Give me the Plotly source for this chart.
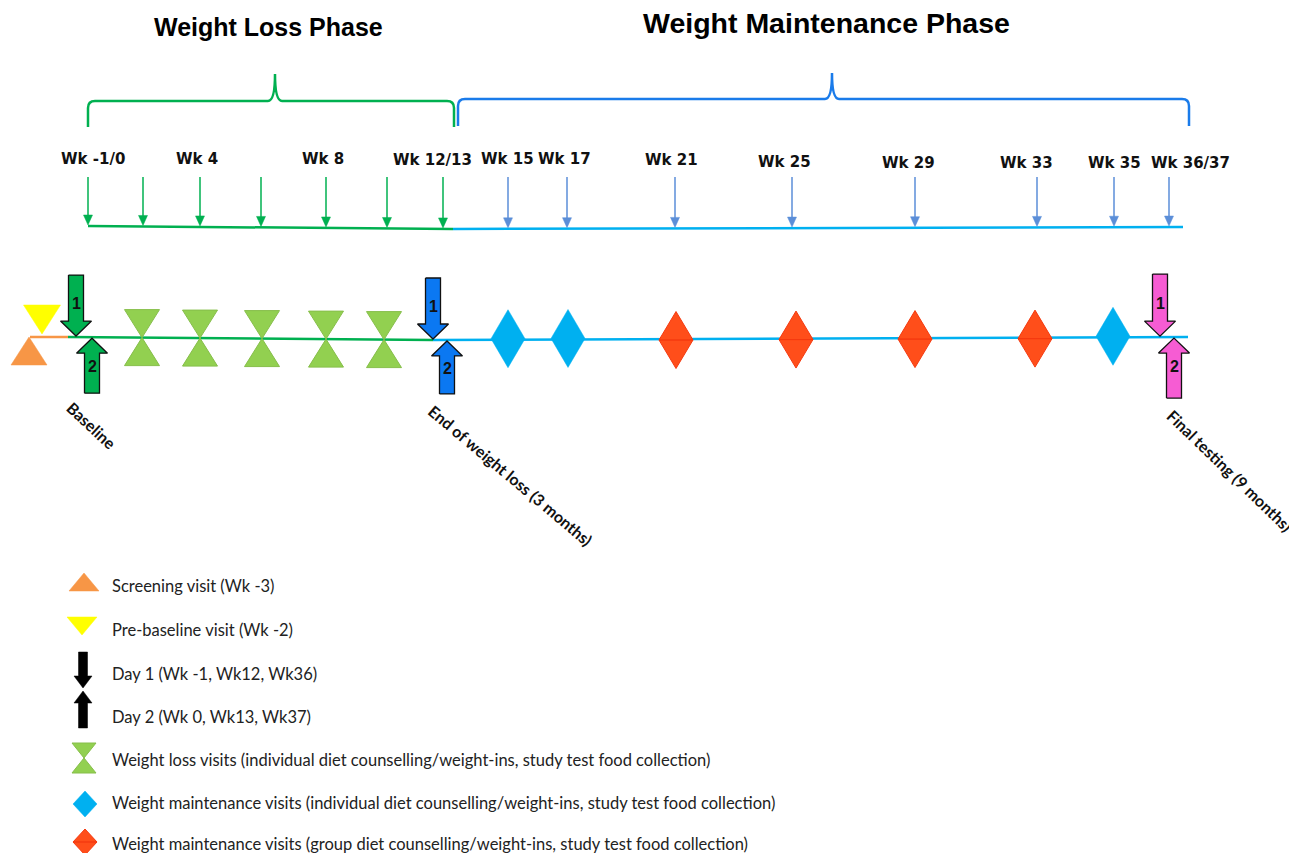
import numpy as np
import plotly.graph_objects as go

W, H = 1297, 853
PAGE_OFF = 8  # default body margin of the html page

# ---------------- data ----------------
phase_titles = ["Weight Loss Phase", "Weight Maintenance Phase"]
phase_title_x = [268, 826]
phase_title_y = [27, 23]
phase_start = [88, 458]
phase_end = [454, 1189]
phase_mid = [275, 832]

week_labels = ["Wk -1/0", "Wk 4", "Wk 8", "Wk 12/13", "Wk 15", "Wk 17",
               "Wk 21", "Wk 25", "Wk 29", "Wk 33", "Wk 35", "Wk 36/37"]
week_label_x = [93, 197, 323, 432, 507, 564, 671, 784, 908, 1026, 1114, 1190]
week_label_y = [159, 159, 159, 160, 159, 159, 160, 162, 163, 163, 163, 163]

loss_tick_x = [88, 143, 200, 261, 326, 387, 443]
maint_tick_x = [508, 567, 675, 792, 915, 1037, 1114, 1169]

screening_x = [29]
prebaseline_x = [42]
loss_visit_x = [142, 200, 262, 326, 384]
maint_indiv_x = [508, 568, 1113]
maint_group_x = [676, 796, 915, 1035]

day1_x = [76, 433, 1160]
day2_x = [92, 447, 1174]
day1_len = [61, 61, 62]
day2_len = [55, 53, 60]
day_colors = ["#00B050", "#0B78F2", "#F65CD3"]

milestone_labels = ["Baseline", "End of weight loss (3 months)", "Final testing (9 months)"]
milestone_x = [92, 511, 1230]
milestone_y = [425, 475, 470]
milestone_angle = [43, 40, 44]

legend_labels = [
    "Screening visit (Wk -3)",
    "Pre-baseline visit (Wk -2)",
    "Day 1 (Wk -1, Wk12, Wk36)",
    "Day 2 (Wk 0, Wk13, Wk37)",
    "Weight loss visits (individual diet counselling/weight-ins, study test food collection)",
    "Weight maintenance visits (individual diet counselling/weight-ins, study test food collection)",
    "Weight maintenance visits (group diet counselling/weight-ins, study test food collection)",
]
legend_y = [586, 630, 674, 717, 760, 803, 844]

# timeline geometry
main_seg_x = [[30, 68], [68, 433], [433, 1188]]
main_seg_y = [[337, 337], [337, 340], [340, 337]]
main_seg_col = ["#F79646", "#00B050", "#00B0F0"]
top_seg_x = [[88, 453], [453, 1183]]
top_seg_y = [[226, 229], [229, 227]]
top_seg_col = ["#00B050", "#00B0F0"]

GREEN = "#00B050"
LGREEN = "#92D050"
CYAN = "#00B0F0"
ORANGE = "#F79646"
RED = "#FF4E1A"
TICKBLUE = "#5B8ED8"
BRACEBLUE = "#1A7BEA"


def main_y(x):
    return float(np.interp(x, [30, 68, 433, 1188], [337, 337, 340, 337]))


def top_y(x):
    return float(np.interp(x, [88, 453, 1183], [226, 229, 227]))


def poly_trace(polys, fill, line_color, line_width=1.0):
    xs, ys = [], []
    for p in polys:
        for (x, y) in p:
            xs.append(x)
            ys.append(y)
        xs.append(p[0][0])
        ys.append(p[0][1])
        xs.append(None)
        ys.append(None)
    return go.Scatter(x=xs, y=ys, mode="lines", fill="toself", fillcolor=fill,
                      line=dict(color=line_color, width=line_width),
                      hoverinfo="skip", showlegend=False)


def block_arrow(xt, yt, down, length, sw=15, hw=31, hl=15):
    s = -1 if down else 1
    yb = yt + s * length
    yh = yt + s * hl
    return [(xt - sw / 2, yb), (xt + sw / 2, yb), (xt + sw / 2, yh), (xt + hw / 2, yh),
            (xt, yt), (xt - hw / 2, yh), (xt - sw / 2, yh)]


def hourglass(xc, yc, hw, hh):
    return [[(xc - hw, yc - hh), (xc + hw, yc - hh), (xc, yc)],
            [(xc - hw, yc + hh), (xc + hw, yc + hh), (xc, yc)]]


def diamond(xc, yc, hw, hh):
    return [(xc, yc - hh), (xc + hw, yc), (xc, yc + hh), (xc - hw, yc)]


fig = go.Figure()

# ---- upper timeline with small arrows ----
for sx, sy, c in zip(top_seg_x, top_seg_y, top_seg_col):
    fig.add_trace(go.Scatter(x=sx, y=sy, mode="lines", line=dict(color=c, width=2.5),
                             hoverinfo="skip", showlegend=False))


def tick_arrows(xs_, color):
    lx, ly, heads = [], [], []
    for x in xs_:
        tip = top_y(x) - 1
        lx += [x, x, None]
        ly += [177, tip - 8, None]
        heads.append([(x - 4.5, tip - 10), (x + 4.5, tip - 10), (x, tip)])
    fig.add_trace(go.Scatter(x=lx, y=ly, mode="lines", line=dict(color=color, width=1.5),
                             hoverinfo="skip", showlegend=False))
    fig.add_trace(poly_trace(heads, color, color, 0.5))


tick_arrows(loss_tick_x, GREEN)
tick_arrows(maint_tick_x, TICKBLUE)

# ---- main timeline ----
for sx, sy, c in zip(main_seg_x, main_seg_y, main_seg_col):
    fig.add_trace(go.Scatter(x=sx, y=sy, mode="lines", line=dict(color=c, width=2.5),
                             hoverinfo="skip", showlegend=False))

# screening & pre-baseline
fig.add_trace(poly_trace([[(x - 18, 365), (x + 18, 365), (x, 337)] for x in screening_x],
                         ORANGE, ORANGE, 0.5))
fig.add_trace(poly_trace([[(x - 18.5, 305), (x + 18.5, 305), (x, 334)] for x in prebaseline_x],
                         "#FFFF00", "#FFFF00", 0.5))

# weight loss visits (hourglass)
hg = []
for x in loss_visit_x:
    hg += hourglass(x, main_y(x), 17.5, 28)
fig.add_trace(poly_trace(hg, LGREEN, "#86BE4A", 1.0))

# maintenance individual (cyan diamonds)
fig.add_trace(poly_trace([diamond(x, main_y(x) - 1, 17, 29) for x in maint_indiv_x],
                         CYAN, CYAN, 0.5))

# maintenance group (red diamonds drawn as two triangles)
rd = []
for x in maint_group_x:
    yc = main_y(x) + 1
    rd.append([(x - 17, yc), (x + 17, yc), (x, yc - 28.5)])
    rd.append([(x - 17, yc), (x + 17, yc), (x, yc + 28.5)])
fig.add_trace(poly_trace(rd, RED, "#F53A10", 1.0))

# day 1 / day 2 block arrows
for x1, x2, l1, l2, c in zip(day1_x, day2_x, day1_len, day2_len, day_colors):
    t1 = main_y(x1) - 1
    t2 = main_y(x2) + 1
    fig.add_trace(poly_trace([block_arrow(x1, t1, True, l1)], c, "#111111", 1.3))
    fig.add_trace(poly_trace([block_arrow(x2, t2, False, l2)], c, "#111111", 1.3))
    fig.add_annotation(x=x1, y=t1 - 33, text="<b>1</b>", showarrow=False,
                       font=dict(family="Liberation Sans", size=16, color="#111"))
    fig.add_annotation(x=x2, y=t2 + 28, text="<b>2</b>", showarrow=False,
                       font=dict(family="Liberation Sans", size=16, color="#111"))

# ---- legend icons ----
fig.add_trace(poly_trace([[(69, 591), (99, 591), (84, 573)]], ORANGE, ORANGE, 0.5))
fig.add_trace(poly_trace([[(67, 617), (97, 617), (82, 635)]], "#FFFF00", "#FFFF00", 0.5))
fig.add_trace(poly_trace([block_arrow(83, 688, True, 36, sw=9, hw=18, hl=12),
                          block_arrow(83, 691, False, 37, sw=9, hw=18, hl=12)],
                         "#000000", "#000000", 0.5))
fig.add_trace(poly_trace(hourglass(84, 758, 12, 15), LGREEN, "#86BE4A", 1.0))
fig.add_trace(poly_trace([diamond(85, 804, 12, 13)], CYAN, CYAN, 0.5))
fig.add_trace(poly_trace([[(73, 842), (97, 842), (85, 829)], [(73, 842), (97, 842), (85, 855)]],
                         RED, "#F53A10", 1.0))

for lab, y in zip(legend_labels, legend_y):
    fig.add_annotation(x=110, y=y, text=lab, showarrow=False, xanchor="left", yanchor="middle",
                       font=dict(family="Lato", size=16.5, color="#222222"))

# ---- braces ----
brace_cols = [GREEN, BRACEBLUE]
brace_top = [101, 99]
brace_bot = [127, 126]
brace_tip = [74, 73]
for x0, x1, xm, yt, yb, ytip, c in zip(phase_start, phase_end, phase_mid, brace_top, brace_bot, brace_tip, brace_cols):
    r = 7
    path = (f"M {x0},{yb} L {x0},{yt + r} Q {x0},{yt} {x0 + r},{yt} "
            f"L {xm - 7},{yt} Q {xm},{yt} {xm},{ytip} Q {xm},{yt} {xm + 7},{yt} "
            f"L {x1 - r},{yt} Q {x1},{yt} {x1},{yt + r} L {x1},{yb}")
    fig.add_shape(type="path", path=path, xref="x", yref="y", line=dict(color=c, width=2.5))

# ---- titles ----
for t, x, y, s in zip(phase_titles, phase_title_x, phase_title_y, [25, 28.5]):
    fig.add_annotation(x=x, y=y, text=f"<b>{t}</b>", showarrow=False,
                       font=dict(family="Liberation Sans", size=s, color="#000"))

for t, x, y in zip(week_labels, week_label_x, week_label_y):
    fig.add_annotation(x=x, y=y, text=f"<b>{t}</b>", showarrow=False,
                       font=dict(family="DejaVu Sans", size=15, color="#111"))

for t, x, y, a in zip(milestone_labels, milestone_x, milestone_y, milestone_angle):
    fig.add_annotation(x=x, y=y, text=f"<b>{t}</b>", showarrow=False, textangle=a,
                       font=dict(family="Lato", size=16, color="#111"))

fig.update_layout(
    width=W - PAGE_OFF, height=H - PAGE_OFF, margin=dict(l=0, r=0, t=0, b=0),
    paper_bgcolor="white", plot_bgcolor="white", showlegend=False,
    xaxis=dict(range=[PAGE_OFF, W], visible=False, fixedrange=True),
    yaxis=dict(range=[H, PAGE_OFF], visible=False, fixedrange=True),
)

fig.write_html("out.html")
